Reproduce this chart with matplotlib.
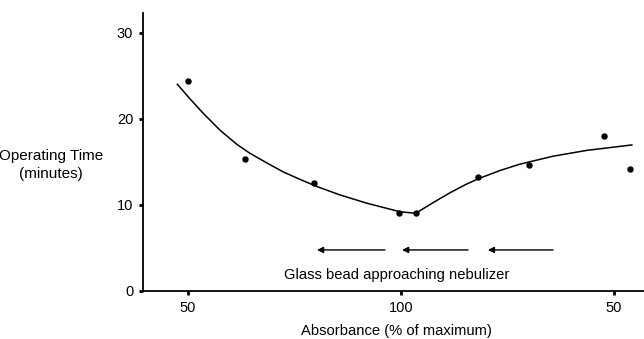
import matplotlib
matplotlib.use("Agg")
import matplotlib.pyplot as plt

plt.rcParams['font.family'] = ['Liberation Sans', 'DejaVu Sans']

# Tick positions / labels (absorbance rises to 100% then falls again)
x_tick_pos = [0, 1, 2]
x_tick_labels = ["50", "100", "50"]
y_ticks = [0, 10, 20, 30]

# Measured points
pts_x = [0.00, 0.268, 0.59, 0.99, 1.069, 1.362, 1.601, 1.955, 2.074]
pts_y = [24.45, 15.3, 12.6, 9.1, 9.03, 13.2, 14.6, 18.0, 14.2]

# Fitted curve
curve_x = [-0.050, 0.009, 0.072, 0.150, 0.229, 0.291, 0.369, 0.447, 0.526,
           0.604, 0.714, 0.840, 0.995, 1.069,
           1.152, 1.230, 1.308, 1.365, 1.465, 1.559, 1.714, 1.873, 2.084]
curve_y = [24.03, 22.34, 20.64, 18.70, 17.05, 16.00, 14.90, 13.84, 12.97,
           12.15, 11.16, 10.20, 9.21, 9.03,
           10.28, 11.41, 12.42, 13.06, 14.00, 14.74, 15.66, 16.34, 16.97]

# Arrows (start x, end x) at height arrow_y
arrow_start = [0.925, 1.315, 1.714]
arrow_end = [0.606, 1.005, 1.408]
arrow_y = 4.77

fig = plt.figure(figsize=(6.44, 3.39), dpi=100)
ax = fig.add_axes([143/644, 48/339, 501/644, 278/339])

ax.plot(curve_x, curve_y, color='black', lw=1.1, solid_joinstyle='round')
ax.plot(pts_x, pts_y, 'o', color='black', ms=3.6)

for xs, xe in zip(arrow_start, arrow_end):
    ax.annotate("", xy=(xe, arrow_y), xytext=(xs, arrow_y),
                arrowprops=dict(arrowstyle='-|>', color='black', lw=1.0,
                                mutation_scale=9, shrinkA=0, shrinkB=0))

ax.text(0.98, 1.86, "Glass bead approaching nebulizer", ha='center', va='center',
        fontsize=10.6)

ax.set_xlim(-0.211, 2.141)
ax.set_ylim(0, 32.3)
ax.set_xticks(x_tick_pos)
ax.set_xticklabels(x_tick_labels, fontsize=10.5)
ax.set_yticks(y_ticks)
ax.set_yticklabels([str(v) for v in y_ticks], fontsize=10.5)
ax.tick_params(direction='out', length=3, width=2, pad=4)

ax.spines['top'].set_visible(False)
ax.spines['right'].set_visible(False)
ax.spines['left'].set_linewidth(1.3)
ax.spines['bottom'].set_linewidth(1.3)

fig.text(51/644, 1 - 165/339, "Operating Time\n(minutes)", ha='center', va='center',
         fontsize=11, linespacing=1.3)
fig.text(396/644, 1 - 331/339, "Absorbance (% of maximum)", ha='center', va='center',
         fontsize=10.6)

fig.savefig("out.png", dpi=100)
